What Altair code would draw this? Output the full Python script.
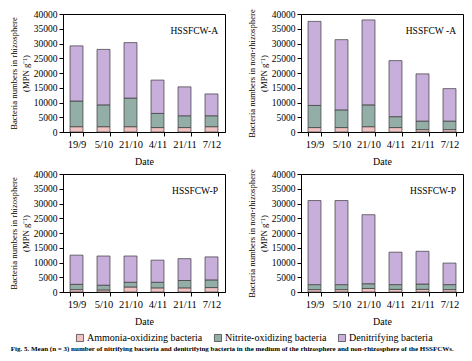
import altair as alt
import pandas as pd

dates = ["19/9", "5/10", "21/10", "4/11", "21/11", "7/12"]
types = ["Ammonia-oxidizing bacteria", "Nitrite-oxidizing bacteria", "Denitrifying bacteria"]

# values per panel (ammonia, nitrite, denitrifying)
rhiz_A_amm = [1800, 1800, 1800, 1500, 1500, 1800]
rhiz_A_nit = [8700, 7400, 9700, 4800, 4000, 3700]
rhiz_A_den = [18700, 18800, 18800, 11300, 9800, 7400]

non_A_amm = [1500, 1500, 1800, 1500, 800, 800]
non_A_nit = [7500, 6000, 7400, 3700, 2900, 2900]
non_A_den = [28500, 23800, 28800, 19000, 16000, 11000]

rhiz_P_amm = [800, 700, 1700, 1400, 1400, 1500]
rhiz_P_nit = [1800, 1600, 1600, 1900, 2500, 2600]
rhiz_P_den = [9900, 9900, 8900, 7500, 7400, 7800]

non_P_amm = [800, 800, 1200, 900, 900, 800]
non_P_nit = [1700, 1700, 1600, 1600, 1800, 1700]
non_P_den = [28500, 28500, 23400, 11000, 11100, 7300]

panels = [
    ("Bacteria numbers in rhizosphere", "HSSFCW-A", rhiz_A_amm, rhiz_A_nit, rhiz_A_den),
    ("Bacteria numbers in non-rhizosphere", "HSSFCW -A", non_A_amm, non_A_nit, non_A_den),
    ("Bacteria numbers in rhizosphere", "HSSFCW-P", rhiz_P_amm, rhiz_P_nit, rhiz_P_den),
    ("Bacteria numbers in non-rhizosphere", "HSSFCW-P", non_P_amm, non_P_nit, non_P_den),
]

caption = ("Fig. 5. Mean (n = 3) number of nitrifying bacteria and denitrifying bacteria in the medium "
           "of the rhizosphere and non-rhizosphere of the HSSFCWs.")

FONT = "Liberation Serif"
colors = ["#f1c2c2", "#93aea7", "#c8aedb"]
W, H = 162, 118


def panel(ytitle, label, amm, nit, den):
    rows = []
    for i, d in enumerate(dates):
        for k, (t, v) in enumerate(zip(types, [amm[i], nit[i], den[i]])):
            rows.append({"date": d, "type": t, "value": v, "ord": k})
    df = pd.DataFrame(rows)
    bars = alt.Chart(df).mark_bar(stroke="#3a3a3a", strokeWidth=0.7).encode(
        x=alt.X("date:N", sort=dates, title="Date",
                scale=alt.Scale(paddingInner=0.52, paddingOuter=0.26),
                axis=alt.Axis(labelAngle=0, tickBand="extent", labelPadding=3,
                              labelFontSize=10.5, titlePadding=7, titleFontSize=10)),
        y=alt.Y("value:Q", stack="zero", title=[ytitle, "(MPN g⁻¹)"],
                scale=alt.Scale(domain=[0, 40000]),
                axis=alt.Axis(values=list(range(0, 40001, 5000)), format="d",
                              labelFontSize=9.5, labelPadding=2,
                              titleFontSize=8.7, titlePadding=3, titleLineHeight=12)),
        color=alt.Color("type:N", sort=types,
                        scale=alt.Scale(domain=types, range=colors),
                        legend=alt.Legend(title=None, orient="none", direction="horizontal",
                                          legendX=12, legendY=319,
                                          symbolType="square", symbolSize=50,
                                          symbolStrokeColor="#333333", symbolStrokeWidth=0.7,
                                          labelFontSize=10, labelFont=FONT, columnPadding=10,
                                          symbolOffset=0, labelOffset=2, padding=0)),
        order=alt.Order("ord:Q"),
    )
    txt = alt.Chart(pd.DataFrame({"t": [label]})).mark_text(
        align="right", baseline="middle", font=FONT, fontSize=9.5, color="black"
    ).encode(x=alt.value(W - 7), y=alt.value(17), text="t:N")
    return alt.layer(bars, txt).properties(width=W, height=H)


charts = [panel(*p) for p in panels]

chart = alt.concat(*charts, columns=2, spacing={"row": 42, "column": 76}, bounds="flush").properties(
    padding={"left": 0, "top": 0, "right": 0, "bottom": 0},
    title=alt.TitleParams(text=caption, orient="bottom", fontSize=7.0, fontWeight="bold",
                          font=FONT, anchor="start", frame="bounds", dx=2, offset=2),
).configure_view(stroke="black", strokeWidth=1).configure_axis(
    labelFont=FONT, titleFont=FONT,
    titleFontWeight="normal", labelColor="black", titleColor="black",
    domainColor="black", tickColor="black", tickSize=4, grid=False,
).resolve_scale(color="shared")

chart.save("out.html", embed_options={"renderer": "svg", "actions": False})
